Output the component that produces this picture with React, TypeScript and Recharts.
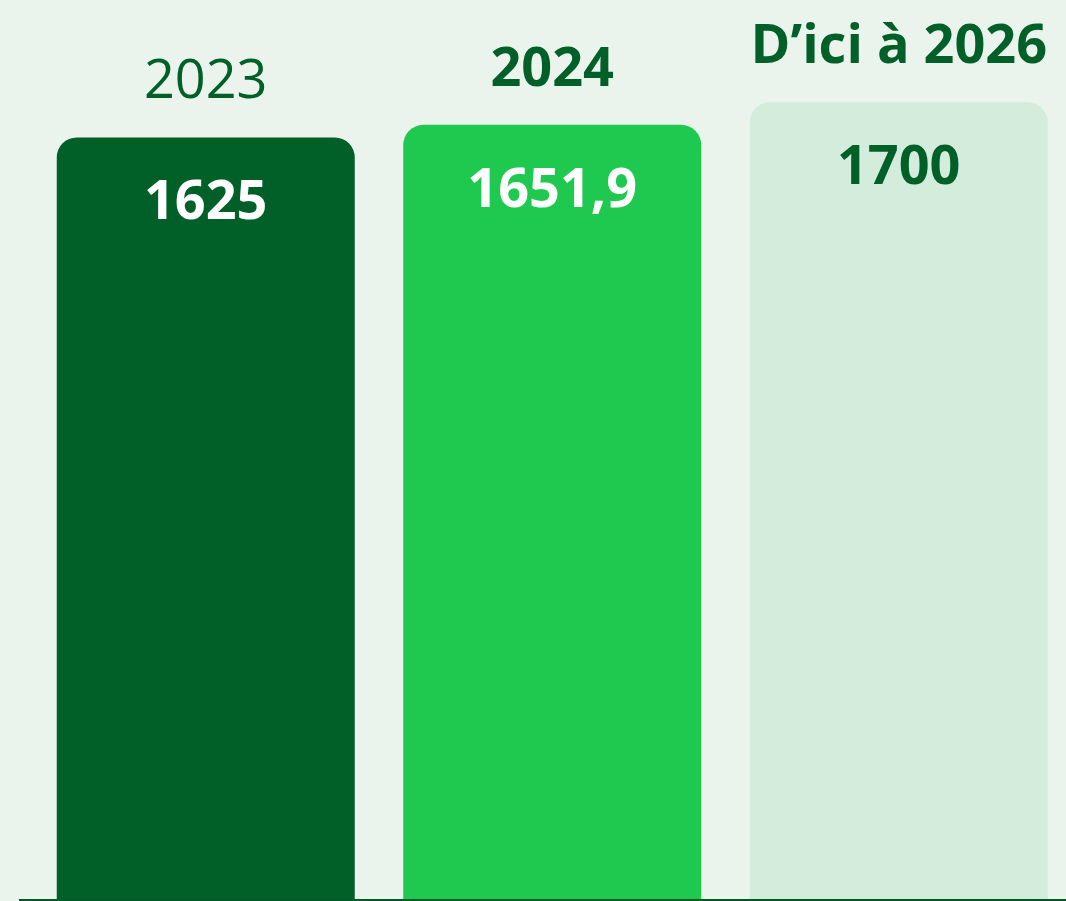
import React from 'react';
import { BarChart, Bar, XAxis, YAxis, Cell, LabelList } from 'recharts';

const periods = ['2023', '2024', 'D\u2019ici à 2026'];
const amounts = [1625, 1651.9, 1700];
const barColors = ['#006028', '#1fc950', '#d3ecdb'];
const valueColors = ['#ffffff', '#ffffff', '#006028'];
const periodWeights = [400, 700, 700];

const data = periods.map((period, i) => ({ period, amount: amounts[i] }));

const FONT = '"Open Sans", "Noto Sans", sans-serif';
const DARK = '#006028';

function formatAmount(value: number): string {
  return String(value).replace('.', ',');
}

function PeriodLabel(props: any) {
  const vb = props.viewBox || props;
  const x = (vb.x ?? props.x) as number;
  const y = (vb.y ?? props.y) as number;
  const width = (vb.width ?? props.width) as number;
  const i = props.index ?? 0;
  return (
    <text
      x={x + width / 2}
      y={y - 39}
      textAnchor="middle"
      fill={DARK}
      fontFamily={FONT}
      fontSize={54}
      fontWeight={periodWeights[i]}
    >
      {periods[i]}
    </text>
  );
}

function AmountLabel(props: any) {
  const vb = props.viewBox || props;
  const x = (vb.x ?? props.x) as number;
  const y = (vb.y ?? props.y) as number;
  const width = (vb.width ?? props.width) as number;
  const i = props.index ?? 0;
  return (
    <text
      x={x + width / 2}
      y={y + 82}
      textAnchor="middle"
      fill={valueColors[i]}
      fontFamily={FONT}
      fontSize={54}
      fontWeight={700}
    >
      {formatAmount(amounts[i])}
    </text>
  );
}

export default function App() {
  return (
    <div
      style={{
        position: 'fixed',
        top: 0,
        left: 0,
        width: 1066,
        height: 901,
        overflow: 'hidden',
        background: '#eaf4ec',
      }}
    >
      <BarChart
        width={1090}
        height={901}
        data={data}
        margin={{ top: 0, right: 7.75, bottom: 0, left: 19 }}
        barSize={298}
      >
        <XAxis
          dataKey="period"
          height={1}
          tick={false}
          tickLine={false}
          axisLine={{ stroke: '#005a25', strokeWidth: 2 }}
          padding={{ left: 13.75, right: 10 }}
        />
        <YAxis hide domain={[0, 1918]} />
        <Bar dataKey="amount" radius={[20, 20, 0, 0]} isAnimationActive={false}>
          {data.map((d, i) => (
            <Cell key={d.period} fill={barColors[i]} />
          ))}
          <LabelList dataKey="period" content={PeriodLabel} />
          <LabelList dataKey="amount" content={AmountLabel} />
        </Bar>
      </BarChart>
    </div>
  );
}
